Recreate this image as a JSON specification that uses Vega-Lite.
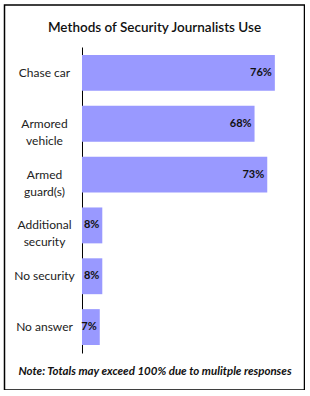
{
  "$schema": "https://vega.github.io/schema/vega-lite/v6.json",
  "width": 300,
  "height": 385,
  "autosize": "none",
  "padding": {"left": 4.5, "top": 5, "right": 0, "bottom": 0},
  "background": "white",
  "title": {
    "text": "Methods of Security Journalists Use",
    "anchor": "middle",
    "offset": -29,
    "font": "Lato",
    "fontSize": 13.5,
    "fontWeight": 600,
    "color": "#111111"
  },
  "config": {
    "view": {"stroke": "#000000", "strokeWidth": 1.5},
    "font": "Lato"
  },
  "data": {
    "values": [
      {"method": "Chase car", "share": 0.76},
      {"method": "Armored vehicle", "share": 0.68},
      {"method": "Armed guard(s)", "share": 0.73},
      {"method": "Additional security", "share": 0.08},
      {"method": "No security", "share": 0.08},
      {"method": "No answer", "share": 0.07}
    ]
  },
  "encoding": {
    "y": {
      "field": "method",
      "type": "nominal",
      "sort": null,
      "scale": {"range": [42, 348], "paddingInner": 0.294, "paddingOuter": 0.157},
      "axis": {
        "title": null,
        "offset": -77.5,
        "ticks": false,
        "domainColor": "#000000",
        "domainWidth": 1,
        "labelAlign": "center",
        "labelPadding": 38,
        "labelFont": "Lato",
        "labelFontSize": 12,
        "labelColor": "#222222",
        "labelLineHeight": 17,
        "labelExpr": "length(datum.value) > 12 ? split(datum.value, ' ') : datum.value"
      }
    },
    "x": {
      "field": "share",
      "type": "quantitative",
      "scale": {"domain": [0, 0.8], "range": [77.5, 280.5]},
      "axis": {
        "title": "Note: Totals may exceed 100% due to mulitple responses",
        "titleFont": "Lato",
        "titleFontSize": 11.5,
        "titleFontStyle": "italic",
        "titleFontWeight": "bold",
        "titleColor": "#111111",
        "titleX": 150,
        "titleAnchor": "middle",
        "titlePadding": 0,
        "offset": -25,
        "domain": false,
        "ticks": false,
        "labels": false,
        "grid": false
      }
    }
  },
  "layer": [
    {"mark": {"type": "bar", "color": "#9999FF"}},
    {
      "mark": {"type": "text", "align": "right", "dx": -3, "font": "Lato", "fontSize": 11, "fontWeight": "bold", "color": "#111111"},
      "encoding": {"text": {"field": "share", "type": "quantitative", "format": ".0%"}}
    }
  ]
}
